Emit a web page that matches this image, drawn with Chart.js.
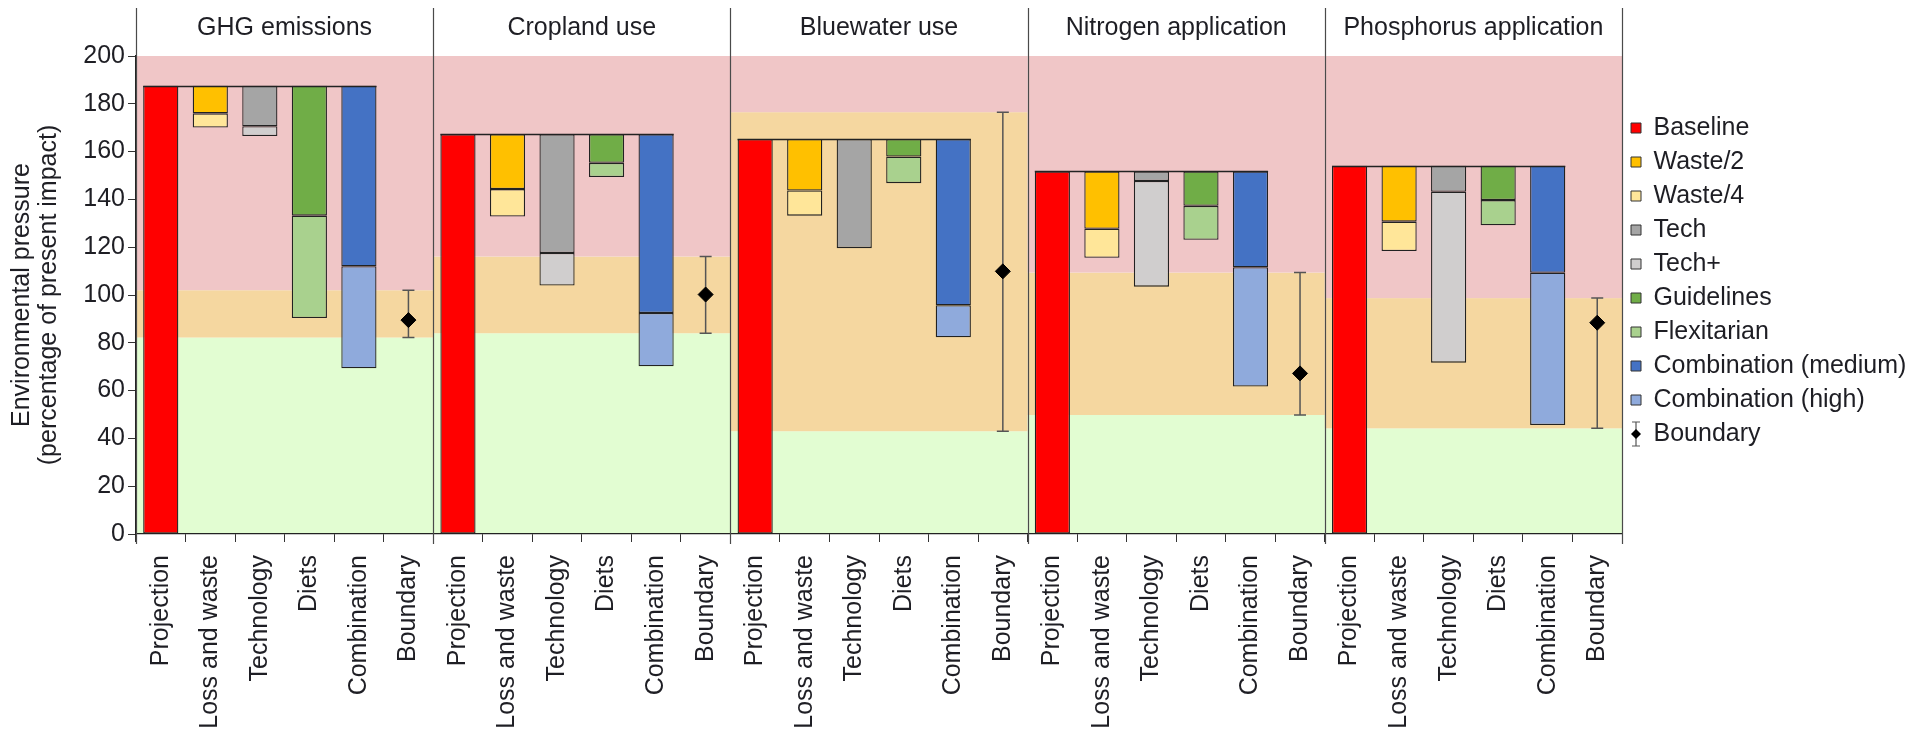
<!DOCTYPE html>
<html><head><meta charset="utf-8">
<script src="https://cdn.jsdelivr.net/npm/chart.js@4"></script>
<style>html,body{margin:0;padding:0;background:#fff;overflow:hidden}#wrap{width:1908px;height:731px;position:relative}</style>
</head><body><div id="wrap"><canvas id="c"></canvas></div>
<script>
// ---- data ----
const panels = ['GHG emissions', 'Cropland use', 'Bluewater use', 'Nitrogen application', 'Phosphorus application'];
const groups = ['Projection', 'Loss and waste', 'Technology', 'Diets', 'Combination', 'Boundary'];
const baseline    = [187.6, 167.3, 165.3, 151.7, 154.1];
const waste2      = [176.0, 144.3, 143.7, 127.7, 130.7];
const waste4      = [170.1, 132.8, 133.2, 115.6, 118.4];
const tech        = [170.6, 117.6, 119.6, 147.7, 143.2];
const techPlus    = [166.5, 104.0, null, 103.5, 71.7];
const guidelines  = [133.2, 155.3, 157.9, 137.3, 139.7];
const flexitarian = [90.4, 149.4, 146.8, 123.1, 129.2];
const combMedium  = [112.0, 92.5, 95.7, 111.6, 109.3];
const combHigh    = [69.3, 70.2, 82.3, 61.7, 45.6];
const boundary     = [89.5, 100.2, 109.9, 67.2, 88.4];
const boundaryLow  = [82.2, 84.0, 43.0, 49.8, 44.2];
const boundaryHigh = [102.0, 116.1, 176.5, 109.4, 98.7];
const yTicks = [0, 20, 40, 60, 80, 100, 120, 140, 160, 180, 200];

const FONT = "'Liberation Sans', Arial, sans-serif";
const TXT = '#1e1e24';
const N = groups.length;
const labels = [];
panels.forEach(() => groups.forEach(g => labels.push(g)));

function place(col, fn) {
  const arr = new Array(panels.length * N).fill(null);
  panels.forEach((_, p) => { arr[p * N + col] = fn(p); });
  return arr;
}
const rng = (lo, hi) => p => (lo[p] == null || hi[p] == null) ? null : [lo[p], hi[p]];
const zeros = panels.map(() => 0);

const barDefaults = { type: 'bar', grouped: false, barPercentage: 0.71, categoryPercentage: 1,
  borderWidth: 1.3, borderColor: '#222', borderSkipped: false };

const series = [
  { label: 'Baseline', color: '#ff0000', col: 0, data: rng(zeros, baseline) },
  { label: 'Waste/2', color: '#ffc000', col: 1, data: rng(waste2, baseline) },
  { label: 'Waste/4', color: '#ffe699', col: 1, data: rng(waste4, waste2) },
  { label: 'Tech', color: '#a5a5a5', col: 2, data: rng(tech, baseline) },
  { label: 'Tech+', color: '#d0cece', col: 2, data: rng(techPlus, tech) },
  { label: 'Guidelines', color: '#70ad47', col: 3, data: rng(guidelines, baseline) },
  { label: 'Flexitarian', color: '#a9d18e', col: 3, data: rng(flexitarian, guidelines) },
  { label: 'Combination (medium)', color: '#4472c4', col: 4, data: rng(combMedium, baseline) },
  { label: 'Combination (high)', color: '#8faadc', col: 4, data: rng(combHigh, combMedium) },
];

const datasets = series.map(s => Object.assign({}, barDefaults, {
  label: s.label, backgroundColor: s.color, data: place(s.col, s.data)
}));
datasets.push({
  type: 'line', label: 'Boundary', showLine: false, data: place(5, p => boundary[p]),
  pointStyle: 'rectRot', pointRadius: 7.5, pointHoverRadius: 7.5,
  backgroundColor: '#000', borderColor: '#000', borderWidth: 1
});

// legend icon for boundary
const bIcon = document.createElement('canvas');
bIcon.width = 12; bIcon.height = 26;
(function () {
  const g = bIcon.getContext('2d');
  g.strokeStyle = '#555'; g.lineWidth = 1.2;
  g.beginPath(); g.moveTo(6, 1); g.lineTo(6, 25);
  g.moveTo(2, 1); g.lineTo(10, 1); g.moveTo(2, 25); g.lineTo(10, 25); g.stroke();
  g.fillStyle = '#000';
  g.beginPath(); g.moveTo(6, 8); g.lineTo(11, 13); g.lineTo(6, 18); g.lineTo(1, 13); g.closePath(); g.fill();
})();

const bandColors = { red: '#f0c6c7', orange: '#f5d7a0', green: '#e2fdd2' };

const panelPlugin = {
  id: 'panels',
  beforeDraw(chart) {
    const { ctx, scales: { x, y } } = chart;
    ctx.save();
    ctx.fillStyle = '#fff';
    ctx.fillRect(0, 0, chart.width, chart.height);
    const half = (x.getPixelForValue(1) - x.getPixelForValue(0)) / 2;
    const y0 = y.getPixelForValue(0), yTop = y.getPixelForValue(200);
    panels.forEach((name, p) => {
      const x0 = x.getPixelForValue(p * N) - half;
      const x1 = x.getPixelForValue(p * N + N - 1) + half;
      const yl = y.getPixelForValue(boundaryLow[p]);
      const yh = y.getPixelForValue(boundaryHigh[p]);
      ctx.fillStyle = bandColors.green; ctx.fillRect(x0, yl, x1 - x0, y0 - yl);
      ctx.fillStyle = bandColors.orange; ctx.fillRect(x0, yh, x1 - x0, yl - yh);
      ctx.fillStyle = bandColors.red; ctx.fillRect(x0, yTop, x1 - x0, yh - yTop);
      ctx.fillStyle = TXT;
      ctx.font = '25px ' + FONT;
      ctx.textAlign = 'center'; ctx.textBaseline = 'middle';
      ctx.fillText(name, (x0 + x1) / 2, 28);
    });
    ctx.restore();
  },
  beforeDatasetsDraw(chart) {
    const { ctx, scales: { x, y } } = chart;
    ctx.save();
    // separators
    const half = (x.getPixelForValue(1) - x.getPixelForValue(0)) / 2;
    ctx.strokeStyle = '#4a4a4a'; ctx.lineWidth = 1.2;
    for (let p = 0; p <= panels.length; p++) {
      const xs = Math.round((p < panels.length ? x.getPixelForValue(p * N) - half : x.getPixelForValue(p * N - 1) + half)) + 0.5;
      ctx.beginPath(); ctx.moveTo(xs, 8); ctx.lineTo(xs, y.getPixelForValue(0) + 10); ctx.stroke();
    }
    // error bars
    ctx.strokeStyle = '#555'; ctx.lineWidth = 1.5;
    panels.forEach((_, p) => {
      const xc = x.getPixelForValue(p * N + 5);
      const yl = y.getPixelForValue(boundaryLow[p]);
      const yh = y.getPixelForValue(boundaryHigh[p]);
      ctx.beginPath();
      ctx.moveTo(xc, yl); ctx.lineTo(xc, yh);
      ctx.moveTo(xc - 6, yl); ctx.lineTo(xc + 6, yl);
      ctx.moveTo(xc - 6, yh); ctx.lineTo(xc + 6, yh);
      ctx.stroke();
    });
    ctx.restore();
  },
  afterDatasetsDraw(chart) {
    const { ctx, scales: { y } } = chart;
    const m0 = chart.getDatasetMeta(0), m7 = chart.getDatasetMeta(7);
    ctx.save();
    ctx.strokeStyle = '#222'; ctx.lineWidth = 1.5;
    panels.forEach((_, p) => {
      const b = m0.data[p * N], c = m7.data[p * N + 4];
      if (!b || !c) return;
      const yb = Math.round(y.getPixelForValue(baseline[p])) + 0.5;
      ctx.beginPath();
      ctx.moveTo(b.x - b.width / 2, yb); ctx.lineTo(c.x + c.width / 2, yb); ctx.stroke();
    });
    ctx.restore();
  }
};

new Chart(document.getElementById('c'), {
  data: { labels, datasets },
  options: {
    responsive: true, maintainAspectRatio: false, animation: false,
    layout: { padding: { top: 56, left: 0, right: 0, bottom: 0 } },
    plugins: {
      tooltip: { enabled: false },
      legend: {
        position: 'right', align: 'start', maxWidth: 286,
        title: { display: true, text: '', font: { size: 10 }, padding: { top: 38.5, bottom: 0 } },
        labels: {
          usePointStyle: true, boxWidth: 10, boxHeight: 10, padding: 9, textAlign: 'left',
          color: TXT, font: { family: FONT, size: 25 },
          generateLabels(chart) {
            return chart.data.datasets.map((d, i) => ({
              text: d.label, datasetIndex: i, hidden: false,
              fillStyle: d.backgroundColor, strokeStyle: '#333', lineWidth: 1,
              pointStyle: d.type === 'line' ? bIcon : 'rect', fontColor: TXT
            }));
          }
        }
      }
    },
    scales: {
      x: {
        type: 'category', offset: true,
        afterFit(s) { s.height = 197; },
        grid: { drawOnChartArea: false, tickLength: 8, color: '#333' },
        border: { color: '#222', width: 1.2 },
        ticks: { autoSkip: false, maxRotation: 90, minRotation: 90, padding: 13, color: TXT,
          font: { family: FONT, size: 25 } }
      },
      y: {
        min: 0, max: 200,
        afterFit(s) { s.width = 136; },
        afterBuildTicks(s) { s.ticks = yTicks.map(v => ({ value: v })); },
        grid: { drawOnChartArea: false, tickLength: 8, color: '#333' },
        border: { color: '#222', width: 1.2 },
        ticks: { padding: 3, color: TXT, font: { family: FONT, size: 25 } },
        title: { display: true, text: ['Environmental pressure', '(percentage of present impact)'],
          color: TXT, font: { family: FONT, size: 25, lineHeight: 1.1 }, padding: { top: 8, bottom: 0 } }
      }
    }
  },
  plugins: [panelPlugin]
});
</script></body></html>
